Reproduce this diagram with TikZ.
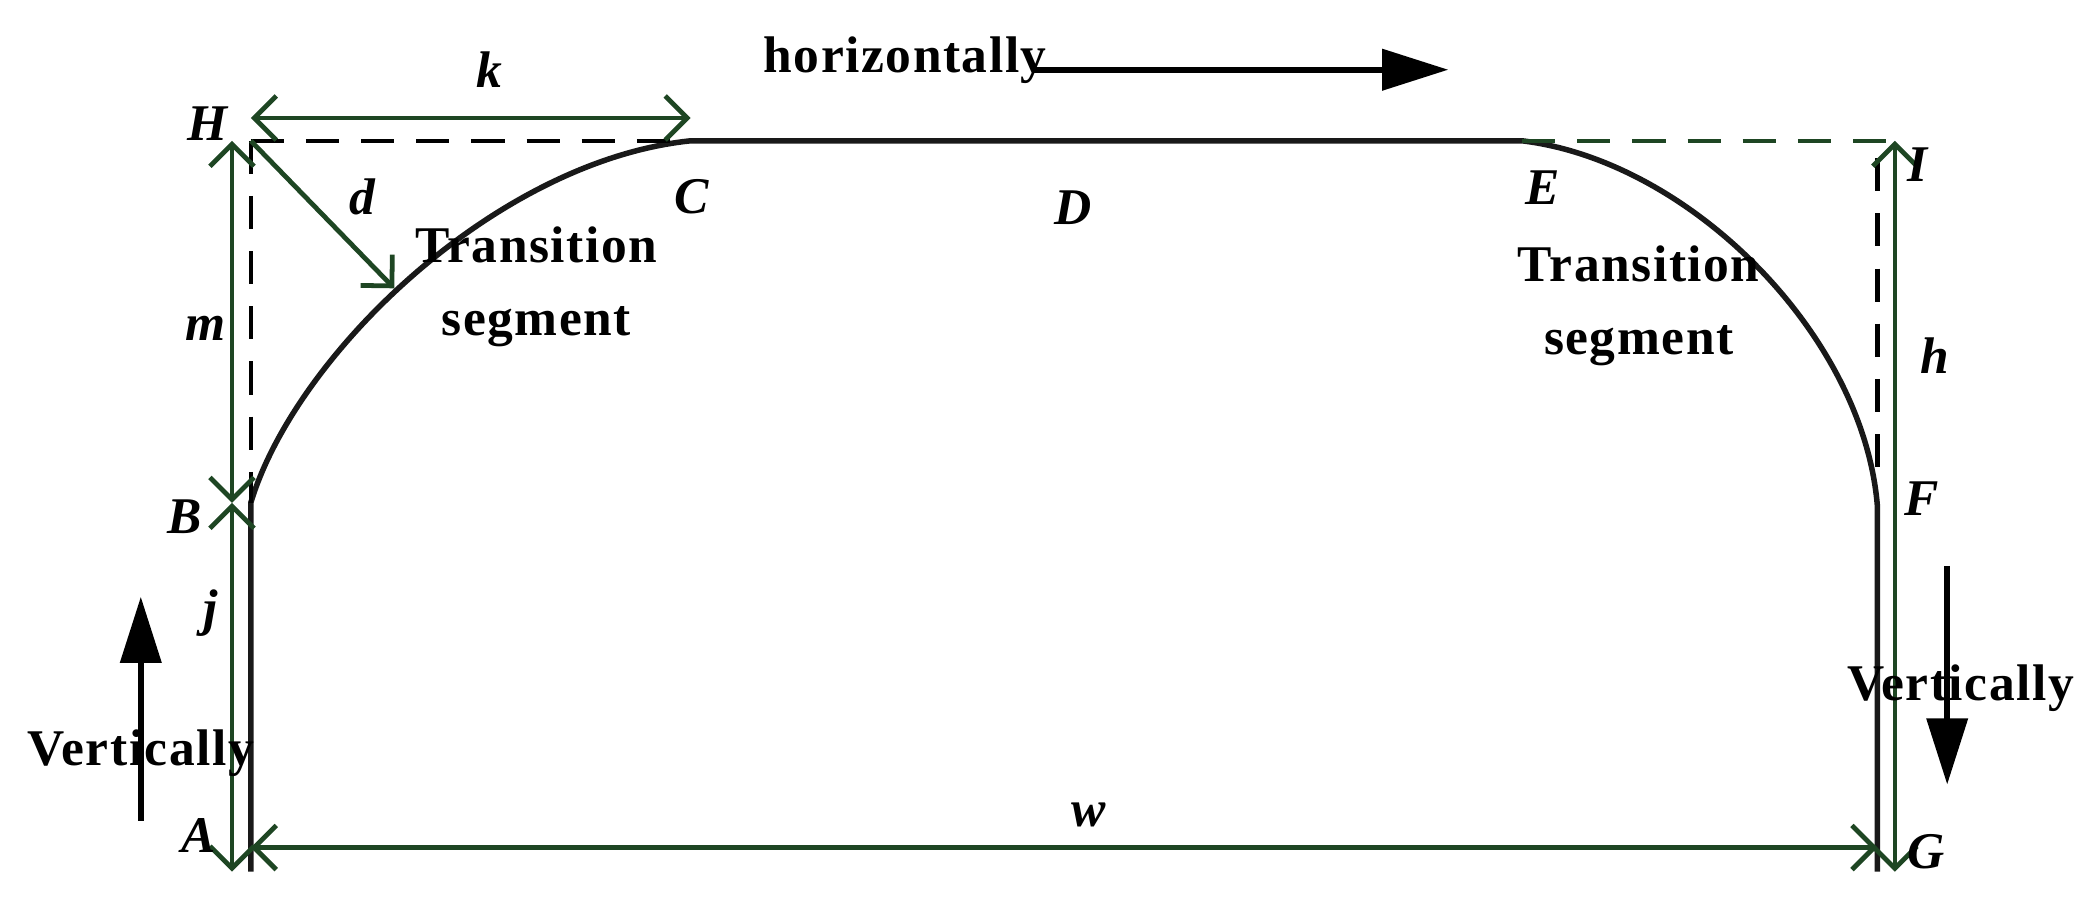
\documentclass[tikz,border=0pt]{standalone}
\usepackage{fontspec}
\setmainfont{Liberation Serif}
\newfontfamily\spaced[LetterSpace=3]{Liberation Serif}
\usetikzlibrary{arrows.meta}
\begin{document}
\begin{tikzpicture}[x=0.01282cm,y=-0.01282cm,
  dim/.style={draw={rgb,255:red,30;green,70;blue,35},line width=1.3pt,
    {Straight Barb[length=6pt,width=12pt]}-{Straight Barb[length=6pt,width=12pt]}},
  dimone/.style={draw={rgb,255:red,30;green,70;blue,35},line width=1.3pt,
    -{Straight Barb[length=6pt,width=12pt]}},
  wall/.style={line width=1.5pt,black!90},
  dsh/.style={line width=1.2pt,dash pattern=on 9pt off 6pt},
  big/.style={line width=1.6pt,-{Triangle[length=18pt,width=11pt]}},
  lab/.style={font=\fontsize{14}{16}\selectfont\bfseries\itshape},
  txt/.style={font=\spaced\fontsize{14}{20}\selectfont\bfseries,align=center}]
\useasboundingbox (0,0) rectangle (1560,678);
\definecolor{dg}{RGB}{30,70,35}
\coordinate (H) at (187,105); \coordinate (C) at (515,105);
\coordinate (E) at (1135,105); \coordinate (I) at (1413,105);
\coordinate (B) at (187,375); \coordinate (F) at (1400,378);
\coordinate (A) at (187,650); \coordinate (G) at (1400,650);
% walls and crown
\draw[wall] (A) -- (B) .. controls (220,265) and (370,120) .. (C) -- (E)
  .. controls (1260,120) and (1390,250) .. (F) -- (G);
% dashed construction
\draw[dsh] (H) -- (C);
\draw[dsh] (H) -- (B);
\draw[dsh,dg] (E) -- (I);
\draw[dsh] (1400,118) -- (1400,362);
% dimensions
\coordinate (k1) at (187,88); \coordinate (k2) at (515,88);
\draw[dim] (k1) -- (k2);
\coordinate (m1) at (173,105); \coordinate (m2) at (173,375); \coordinate (m3) at (173,650);
\draw[dim] (m1) -- (m2);
\draw[dim] (m2) -- (m3);
\coordinate (r1) at (1413,105); \coordinate (r2) at (1413,650);
\draw[dim] (r1) -- (r2);
\coordinate (w1) at (187,632); \coordinate (w2) at (1400,632);
\draw[dim] (w1) -- (w2);
\coordinate (dd) at (294,215);
\draw[dimone] (H) -- (dd);
% direction arrows
\coordinate (h1) at (770,52); \coordinate (h2) at (1080,52);
\draw[big] (h1) -- (h2);
\coordinate (v1) at (105,612); \coordinate (v2) at (105,445);
\draw[big] (v1) -- (v2);
\coordinate (v3) at (1452,422); \coordinate (v4) at (1452,585);
\draw[big] (v3) -- (v4);
% labels
\node[lab] (lk) at (365,52) {k};
\node[txt] (lho) at (675,45) {horizontally};
\node[lab] (lH) at (155,92) {H};
\node[lab] (ld) at (270,147) {d};
\node[lab] (lC) at (516,147) {C};
\node[lab] (lD) at (800,155) {D};
\node[lab] (lE) at (1150,140) {E};
\node[txt] (t1) at (400,214) {Transition\\segment};
\node[txt] (t2) at (1222,228) {Transition\\segment};
\node[lab] (lI) at (1430,123) {I};
\node[lab] (lh) at (1443,265) {h};
\node[lab] (lm) at (153,245) {m};
\node[lab] (lB) at (138,385) {B};
\node[lab] (lF) at (1433,372) {F};
\node[lab] (lj) at (157,457) {j};
\node[txt] (vl) at (105,562) {Vertically};
\node[txt] (vr) at (1462,513) {Vertically};
\node[lab] (lA) at (148,623) {A};
\node[lab] (lw) at (812,608) {w};
\node[lab] (lG) at (1436,635) {G};
\end{tikzpicture}
\end{document}
